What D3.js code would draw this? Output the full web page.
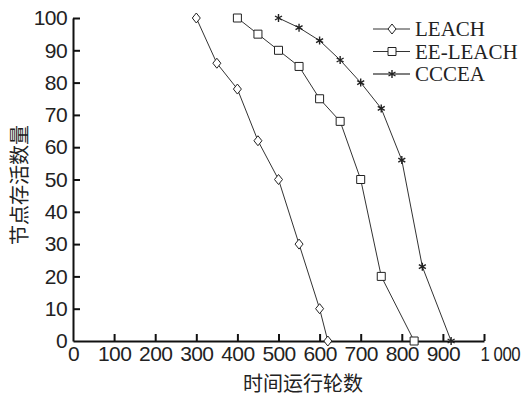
<!DOCTYPE html>
<html>
<head>
<meta charset="utf-8">
<script src="https://cdn.jsdelivr.net/npm/d3@7"></script>
<style>
  body { margin: 0; background: #fff; }
  text { fill: #222; }
</style>
</head>
<body>
<div id="chart"></div>
<script>
// rounds on x, surviving nodes on y
const seriesNames = ["LEACH", "EE-LEACH", "CCCEA"];
const leachRounds = [300, 350, 400, 450, 500, 550, 600, 620];
const leachAlive  = [100, 86, 78, 62, 50, 30, 10, 0];
const eeRounds = [400, 450, 500, 550, 600, 650, 700, 750, 830];
const eeAlive  = [100, 95, 90, 85, 75, 68, 50, 20, 0];
const cccRounds = [500, 550, 600, 650, 700, 750, 800, 850, 920];
const cccAlive  = [100, 97, 93, 87, 80, 72, 56, 23, 0];
const xTicks = [0, 100, 200, 300, 400, 500, 600, 700, 800, 900, 1000];
const yTicks = [0, 10, 20, 30, 40, 50, 60, 70, 80, 90, 100];

const width = 521, height = 395;
const svg = d3.select("#chart").append("svg")
  .attr("width", width).attr("height", height);

const x = d3.scaleLinear().domain([0, 1000]).range([73, 484]);
const y = d3.scaleLinear().domain([0, 100]).range([341, 18]);

const tickFont = "'Liberation Sans', Arial, sans-serif";

const xAxis = svg.append("g")
  .attr("transform", `translate(0,${y(0)})`)
  .call(d3.axisBottom(x).tickValues(xTicks).tickSizeInner(-7).tickSizeOuter(0)
    .tickPadding(5).tickFormat(d => d === 1000 ? "1 000" : d));
const yAxis = svg.append("g")
  .attr("transform", `translate(${x(0)},0)`)
  .call(d3.axisLeft(y).tickValues(yTicks).tickSizeInner(-7).tickSizeOuter(0).tickPadding(6));

[xAxis, yAxis].forEach(g => {
  g.select(".domain").attr("stroke", "#111").attr("stroke-width", 2);
  g.selectAll(".tick line").attr("stroke", "#111").attr("stroke-width", 2);
  g.selectAll(".tick text")
    .style("font-family", tickFont).style("font-size", "21px")
    .style("letter-spacing", "-0.6px").attr("fill", "#222");
});
xAxis.selectAll(".tick").filter(d => d === 0).select("line").remove();
yAxis.selectAll(".tick").filter(d => d === 0).select("line").remove();
// the last label sits a little right of its tick and is set narrower
xAxis.selectAll(".tick").filter(d => d === 1000).select("text")
  .attr("text-anchor", "start")
  .attr("x", -5)
  .attr("transform", "scale(0.8,1)");

// titles
svg.append("text")
  .attr("x", 303).attr("y", 382)
  .attr("text-anchor", "middle").attr("dominant-baseline", "central")
  .style("font-family", "'Noto Sans CJK SC', sans-serif").style("font-size", "20px")
  .attr("fill", "#222")
  .text("时间运行轮数");
svg.append("text")
  .attr("transform", "translate(18,185) rotate(-90)")
  .attr("text-anchor", "middle").attr("dominant-baseline", "central")
  .style("font-family", "'Noto Sans CJK SC', sans-serif").style("font-size", "20px")
  .attr("fill", "#222")
  .text("节点存活数量");

// markers
const diamond = "M0,-5L4,0L0,5L-4,0Z";
const square = "M-4,-4H4V4H-4Z";
const star = "M0,-4V4M-3.5,-2L3.5,2M-3.5,2L3.5,-2";
const markers = [diamond, square, star];

const series = [
  leachRounds.map((r, i) => [r, leachAlive[i]]),
  eeRounds.map((r, i) => [r, eeAlive[i]]),
  cccRounds.map((r, i) => [r, cccAlive[i]])
];

const line = d3.line().x(d => x(d[0])).y(d => y(d[1]));

series.forEach((pts, s) => {
  svg.append("path")
    .datum(pts)
    .attr("d", line)
    .attr("fill", "none")
    .attr("stroke", "#333")
    .attr("stroke-width", 1);

  svg.selectAll(null)
    .data(pts)
    .enter()
    .append("path")
    .attr("d", markers[s])
    .attr("transform", d => `translate(${x(d[0])},${y(d[1])})`)
    .attr("fill", s === 2 ? "none" : "#fff")
    .attr("stroke", "#222")
    .attr("stroke-width", s === 2 ? 1.4 : 1);
});

// legend
const legend = svg.append("g");
seriesNames.forEach((name, i) => {
  const ly = 29 + i * 22.5;
  legend.append("line")
    .attr("x1", 373).attr("x2", 410).attr("y1", ly).attr("y2", ly)
    .attr("stroke", i === 2 ? "#555" : "#333").attr("stroke-width", i === 2 ? 1.5 : 1);
  legend.append("path")
    .attr("d", markers[i])
    .attr("transform", `translate(392,${ly})`)
    .attr("fill", i === 2 ? "none" : "#fff")
    .attr("stroke", "#222")
    .attr("stroke-width", i === 2 ? 1.4 : 1);
  legend.append("text")
    .attr("x", 415).attr("y", ly)
    .attr("dominant-baseline", "central")
    .style("font-family", "'Liberation Serif', 'Times New Roman', serif")
    .style("font-size", "21px")
    .text(name);
});
</script>
</body>
</html>
